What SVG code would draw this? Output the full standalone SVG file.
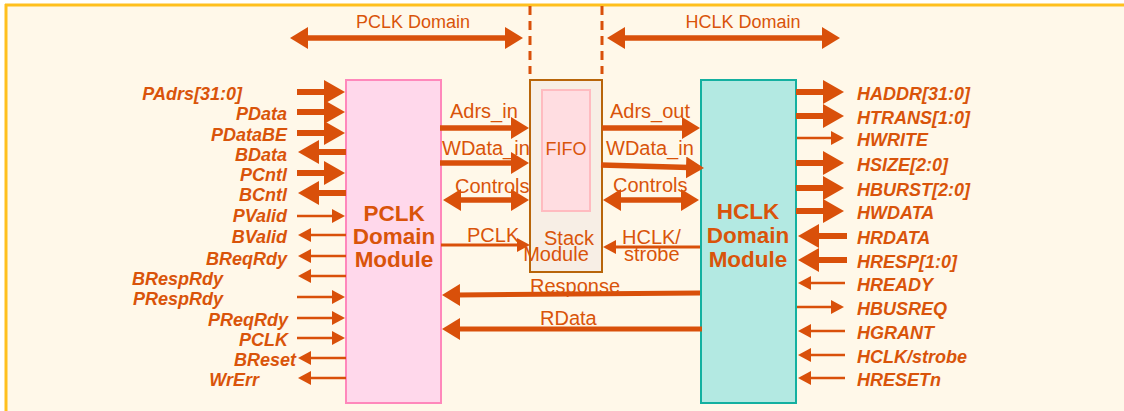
<svg xmlns="http://www.w3.org/2000/svg" width="1124" height="411" viewBox="0 0 1124 411">
  <defs>
    <style>
      .sig { font-family: "Liberation Sans", Arial, sans-serif; font-size: 18px; font-weight: bold; font-style: italic; fill: #D9540A; }
      .lbl { font-family: "Liberation Sans", Arial, sans-serif; font-size: 20px; fill: #D9540A; }
      .dom { font-family: "Liberation Sans", Arial, sans-serif; font-size: 18px; fill: #D9540A; }
      .mod { font-family: "Liberation Sans", Arial, sans-serif; font-size: 22.5px; font-weight: bold; fill: #D9540A; text-anchor: middle; }
      .big { stroke: #D9500A; stroke-width: 6; fill: none; marker-end: url(#hd-big); }
      .mid { stroke: #D9500A; stroke-width: 5.5; fill: none; marker-end: url(#hd-mid); }
      .dbl { stroke: #D9500A; stroke-width: 5.5; fill: none; marker-start: url(#hd-mid); marker-end: url(#hd-mid); }
      .thin { stroke: #D9500A; stroke-width: 2.5; fill: none; marker-end: url(#hd-thin); }
    </style>
    <marker id="hd-big" markerUnits="userSpaceOnUse" markerWidth="21" markerHeight="24" refX="3" refY="12" orient="auto-start-reverse">
      <path d="M0,0 L21,12 L0,24 z" fill="#D9500A"/>
    </marker>
    <marker id="hd-mid" markerUnits="userSpaceOnUse" markerWidth="18" markerHeight="22" refX="3" refY="11" orient="auto-start-reverse">
      <path d="M0,0 L18,11 L0,22 z" fill="#D9500A"/>
    </marker>
    <marker id="hd-thin" markerUnits="userSpaceOnUse" markerWidth="13" markerHeight="14" refX="2" refY="7" orient="auto-start-reverse">
      <path d="M0,0 L13,7 L0,14 z" fill="#D9500A"/>
    </marker>
  </defs>

  <!-- page -->
  <rect x="0" y="0" width="1124" height="411" fill="#FFFFFF"/>
  <rect x="5" y="4" width="1119" height="407" fill="#FFF8E9"/>
  <line x1="5" y1="5" x2="1124" y2="5" stroke="#FFC01E" stroke-width="3"/>
  <line x1="6" y1="4" x2="6" y2="411" stroke="#FFC01E" stroke-width="3"/>

  <!-- clock domain boundaries -->
  <g id="domains">
    <line x1="530" y1="6" x2="530" y2="74" stroke="#D9500A" stroke-width="3" stroke-dasharray="9,6"/>
    <line x1="602" y1="6" x2="602" y2="74" stroke="#D9500A" stroke-width="3" stroke-dasharray="9,6"/>
    <line class="dbl" x1="305" y1="38" x2="508" y2="38"/>
    <line class="dbl" x1="622" y1="38" x2="825" y2="38"/>
    <text class="dom" x="413" y="28" text-anchor="middle">PCLK Domain</text>
    <text class="dom" x="743" y="28" text-anchor="middle">HCLK Domain</text>
  </g>

  <!-- modules -->
  <g id="pclk-module">
    <rect x="346" y="80" width="95" height="323" fill="#FFD8EB" stroke="#FF88BB" stroke-width="2"/>
    <text class="mod" x="394" y="221">PCLK</text>
    <text class="mod" x="394" y="244">Domain</text>
    <text class="mod" x="394" y="267">Module</text>
  </g>

  <g id="stack-module">
    <rect x="530" y="80" width="72" height="192" fill="#F7EEE5" stroke="#B8650A" stroke-width="2"/>
    <rect x="542" y="90" width="48" height="121" fill="#FFDDE1" stroke="#FFBBC0" stroke-width="2"/>
    <text class="dom" x="566" y="155" text-anchor="middle">FIFO</text>
    <text class="lbl" x="569" y="245" text-anchor="middle">Stack</text>
    <text class="lbl" x="556" y="261" text-anchor="middle">Module</text>
  </g>

  <g id="hclk-module">
    <rect x="701" y="80" width="95" height="323" fill="#B3E9E2" stroke="#14B0A0" stroke-width="2"/>
    <text class="mod" x="748" y="219">HCLK</text>
    <text class="mod" x="748" y="243">Domain</text>
    <text class="mod" x="748" y="267">Module</text>
  </g>

  <!-- connectors -->
  <g id="connectors">
    <!-- PCLK side bus -->
    <line class="big" x1="297" y1="92" x2="327" y2="92"/>
    <line class="big" x1="297" y1="112" x2="327" y2="112"/>
    <line class="big" x1="297" y1="133" x2="327" y2="133"/>
    <line class="big" x1="346" y1="152" x2="316" y2="152"/>
    <line class="big" x1="297" y1="173" x2="327" y2="173"/>
    <line class="big" x1="346" y1="193" x2="316" y2="193"/>
    <line class="thin" x1="297" y1="216" x2="334" y2="216"/>
    <line class="thin" x1="346" y1="235" x2="309" y2="235"/>
    <line class="thin" x1="346" y1="256" x2="309" y2="256"/>
    <line class="thin" x1="346" y1="276" x2="309" y2="276"/>
    <line class="thin" x1="297" y1="297" x2="334" y2="297"/>
    <line class="thin" x1="297" y1="318" x2="334" y2="318"/>
    <line class="thin" x1="297" y1="338" x2="334" y2="338"/>
    <line class="thin" x1="346" y1="358" x2="309" y2="358"/>
    <line class="thin" x1="346" y1="378" x2="309" y2="378"/>

    <!-- AHB side bus -->
    <line class="big" x1="796" y1="92" x2="826" y2="92"/>
    <line class="big" x1="796" y1="116" x2="826" y2="116"/>
    <line class="thin" x1="797" y1="138" x2="833" y2="138"/>
    <line class="big" x1="796" y1="163" x2="826" y2="163"/>
    <line class="big" x1="796" y1="188" x2="826" y2="188"/>
    <line class="big" x1="796" y1="211" x2="826" y2="211"/>
    <line class="big" x1="847" y1="236" x2="816" y2="236"/>
    <line class="big" x1="847" y1="260" x2="816" y2="260"/>
    <line class="thin" x1="845" y1="283" x2="809" y2="283"/>
    <line class="thin" x1="797" y1="307" x2="833" y2="307"/>
    <line class="thin" x1="845" y1="331" x2="809" y2="331"/>
    <line class="thin" x1="845" y1="355" x2="809" y2="355"/>
    <line class="thin" x1="845" y1="378" x2="809" y2="378"/>

    <!-- internal paths -->
    <line class="mid" x1="440" y1="128" x2="514" y2="128"/>
    <line class="mid" x1="602" y1="128" x2="685" y2="128"/>
    <line class="mid" x1="440" y1="163" x2="514" y2="163"/>
    <line class="mid" x1="601" y1="165" x2="689" y2="167.6"/>
    <line class="dbl" x1="458" y1="200" x2="514" y2="200"/>
    <line class="dbl" x1="618" y1="200" x2="684" y2="200"/>
    <line class="thin" x1="441" y1="245" x2="519" y2="245" style="stroke-width:3"/>
    <line class="thin" x1="700" y1="247" x2="614" y2="247" style="stroke-width:3"/>
    <line class="mid" x1="700" y1="293" x2="457" y2="295" style="stroke-width:5"/>
    <line class="mid" x1="702" y1="329" x2="457" y2="329" style="stroke-width:5"/>

    <text class="lbl" x="450" y="118">Adrs_in</text>
    <text class="lbl" x="610" y="118">Adrs_out</text>
    <text class="lbl" x="442" y="155">WData_in</text>
    <text class="lbl" x="606" y="155">WData_in</text>
    <text class="lbl" x="455" y="193">Controls</text>
    <text class="lbl" x="613" y="192">Controls</text>
    <text class="lbl" x="467" y="242">PCLK</text>
    <text class="lbl" x="622" y="244">HCLK/</text>
    <text class="lbl" x="624" y="261">strobe</text>
    <text class="lbl" x="530" y="293">Response</text>
    <text class="lbl" x="540" y="325">RData</text>
  </g>

  <!-- signal names -->
  <g id="pclk-signals">
    <text class="sig" x="242" y="100" text-anchor="end">PAdrs[31:0]</text>
    <text class="sig" x="287" y="120" text-anchor="end">PData</text>
    <text class="sig" x="287" y="141" text-anchor="end">PDataBE</text>
    <text class="sig" x="287" y="161" text-anchor="end">BData</text>
    <text class="sig" x="287" y="181" text-anchor="end">PCntl</text>
    <text class="sig" x="287" y="201" text-anchor="end">BCntl</text>
    <text class="sig" x="287" y="222" text-anchor="end">PValid</text>
    <text class="sig" x="287" y="243" text-anchor="end">BValid</text>
    <text class="sig" x="287" y="265" text-anchor="end">BReqRdy</text>
    <text class="sig" x="132" y="285">BRespRdy</text>
    <text class="sig" x="133" y="305">PRespRdy</text>
    <text class="sig" x="288" y="326" text-anchor="end">PReqRdy</text>
    <text class="sig" x="288" y="346" text-anchor="end">PCLK</text>
    <text class="sig" x="296" y="366" text-anchor="end">BReset</text>
    <text class="sig" x="259" y="386" text-anchor="end">WrErr</text>
  </g>

  <g id="ahb-signals">
    <text class="sig" x="857" y="100">HADDR[31:0]</text>
    <text class="sig" x="857" y="124">HTRANS[1:0]</text>
    <text class="sig" x="857" y="146">HWRITE</text>
    <text class="sig" x="857" y="171">HSIZE[2:0]</text>
    <text class="sig" x="857" y="196">HBURST[2:0]</text>
    <text class="sig" x="857" y="219">HWDATA</text>
    <text class="sig" x="857" y="244">HRDATA</text>
    <text class="sig" x="857" y="268">HRESP[1:0]</text>
    <text class="sig" x="857" y="291">HREADY</text>
    <text class="sig" x="857" y="315">HBUSREQ</text>
    <text class="sig" x="857" y="339">HGRANT</text>
    <text class="sig" x="857" y="363">HCLK/strobe</text>
    <text class="sig" x="857" y="386">HRESETn</text>
  </g>
</svg>
